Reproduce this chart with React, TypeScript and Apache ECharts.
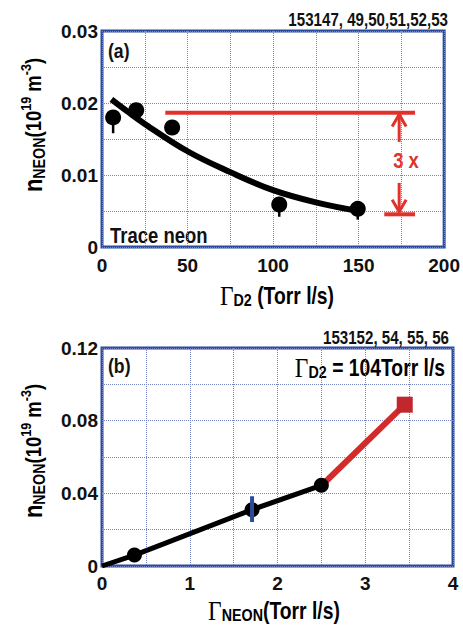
import { useEffect, useRef } from "react";
import * as echarts from "echarts";

// ---------- data ----------
const xTickValuesA = [0, 50, 100, 150, 200];
const xTickLabelsA = ["0", "50", "100", "150", "200"];
const yTickValuesA = [0, 0.01, 0.02, 0.03];
const yTickLabelsA = ["0", "0.01", "0.02", "0.03"];

const xTickValuesB = [0, 1, 2, 3, 4];
const xTickLabelsB = ["0", "1", "2", "3", "4"];
const yTickValuesB = [0, 0.04, 0.08, 0.12];
const yTickLabelsB = ["0", "0.04", "0.08", "0.12"];

// panel (a): neon density vs D2 puff rate
const pointsA = [
  [6.5, 0.018],
  [20, 0.019],
  [41, 0.0166],
  [103.6, 0.0059],
  [149.5, 0.0053],
];
// [x, low, high]
const errorBarsA = [
  [6.5, 0.0158, 0.018],
  [103.6, 0.0042, 0.0059],
  [149.5, 0.0038, 0.0053],
];
const fitCurveA = [
  [5.5, 0.0205],
  [15, 0.0188],
  [25, 0.0171],
  [50, 0.0133],
  [75, 0.0104],
  [100, 0.0079],
  [125, 0.0062],
  [150, 0.005],
];
const upperLevelA = [
  [37, 0.01865],
  [183, 0.01865],
];
const lowerLevelA = [
  [165, 0.00454],
  [183, 0.00454],
];
// [x, from, to]
const ratioArrowsA = [
  [173.7, 0.0146, 0.0184],
  [173.7, 0.0089, 0.0049],
];

// panel (b): neon density vs neon puff rate
const lineB = [
  [0, 0],
  [0.37, 0.006],
  [1.71, 0.031],
  [2.5, 0.0444],
];
const pointsB = [
  [0.37, 0.006],
  [1.71, 0.031],
  [2.5, 0.0444],
];
const errorBarsB = [[1.71, 0.0242, 0.0384]];
const redSegmentB = [
  [2.55, 0.0465],
  [3.45, 0.0888],
];
const redPointB = [[3.45, 0.0888]];

const shotsA = "153147, 49,50,51,52,53";
const shotsB = "153152, 54, 55, 56";

// ---------- styles ----------
const FONT = "'Liberation Sans', Arial, Helvetica, sans-serif";
const SERIF = "'Liberation Serif', 'DejaVu Serif', serif";
const BLUE = "#2d4b9b";
const GRIDC = "#7585c8";
const RED = "#e0322b";
const RED2 = "#d42a2a";
const TXT = "#111";
const NARROW = 0.84;

function tickFormatter(values: number[], labels: string[]) {
  return (v: number) => {
    const i = values.findIndex((t) => Math.abs(t - v) < 1e-9);
    return i >= 0 ? labels[i] : "";
  };
}

function errorBarRender(color: string, width: number) {
  return (params: any, api: any) => {
    const x = api.value(0);
    const p1 = api.coord([x, api.value(1)]);
    const p2 = api.coord([x, api.value(2)]);
    return {
      type: "line",
      shape: { x1: p1[0], y1: p1[1], x2: p2[0], y2: p2[1] },
      style: { stroke: color, lineWidth: width },
    };
  };
}

function arrowRender(params: any, api: any) {
  const x = api.value(0);
  const pf = api.coord([x, api.value(1)]);
  const pt = api.coord([x, api.value(2)]);
  const dir = Math.sign(pf[1] - pt[1]);
  return {
    type: "group",
    children: [
      {
        type: "line",
        shape: { x1: pf[0], y1: pf[1], x2: pt[0], y2: pt[1] },
        style: { stroke: RED, lineWidth: 3 },
      },
      {
        type: "polyline",
        shape: {
          points: [
            [pt[0] - 7, pt[1] + dir * 12],
            [pt[0], pt[1]],
            [pt[0] + 7, pt[1] + dir * 12],
          ],
        },
        style: { stroke: RED, lineWidth: 3, fill: "none" },
      },
    ],
  };
}

const yTitleRich = {
  n: { fontFamily: FONT, fontWeight: "bold", fontSize: 26, lineHeight: 30, color: TXT },
  sub: { fontFamily: FONT, fontWeight: "bold", fontSize: 17, lineHeight: 17, verticalAlign: "bottom", color: TXT },
  m: { fontFamily: FONT, fontWeight: "bold", fontSize: 22, lineHeight: 30, color: TXT },
  sup: { fontFamily: FONT, fontWeight: "bold", fontSize: 15, lineHeight: 15, verticalAlign: "top", color: TXT },
};
const yTitleText = "{n|n}{sub|NEON}{m|(10}{sup|19}{m| m}{sup|-3}{m|)}";

const xTitleRich = {
  g: { fontFamily: SERIF, fontSize: 28, lineHeight: 25, color: TXT },
  sub: { fontFamily: FONT, fontWeight: "bold", fontSize: 17, lineHeight: 16, verticalAlign: "bottom", color: TXT },
  m: { fontFamily: FONT, fontWeight: "bold", fontSize: 23, lineHeight: 25, color: TXT },
};

function axisCommon() {
  return {
    axisLine: { show: false },
    axisTick: { show: false },
    splitLine: { show: true, lineStyle: { color: GRIDC, type: "dotted", width: 1 } },
  };
}

function txt(x: number, y: number, text: string, size: number, align: string, color = TXT) {
  return {
    type: "text", x, y, scaleX: NARROW,
    style: { text, font: `bold ${size}px ${FONT}`, fill: color, align, verticalAlign: "middle" },
  };
}

export default function App() {
  const ref = useRef<HTMLDivElement>(null);
  useEffect(() => {
    if (!ref.current) return;
    const chart = echarts.init(ref.current, null, { renderer: "svg" });
    const labelStyle = { fontFamily: FONT, fontWeight: "bold", fontSize: 19, color: TXT };
    const option: any = {
      animation: false,
      backgroundColor: "#fff",
      grid: [
        { left: 102, top: 31, width: 350, height: 216, show: true, borderColor: BLUE, borderWidth: 3, backgroundColor: "transparent" },
        { left: 102, top: 348, width: 351, height: 218, show: true, borderColor: BLUE, borderWidth: 3, backgroundColor: "transparent" },
      ],
      xAxis: [
        {
          type: "value", gridIndex: 0, min: 0, max: 200, interval: 25, ...axisCommon(),
          axisLabel: { ...labelStyle, margin: 9, formatter: tickFormatter(xTickValuesA, xTickLabelsA) },
        },
        {
          type: "value", gridIndex: 1, min: 0, max: 4, interval: 0.5, ...axisCommon(),
          axisLabel: { ...labelStyle, margin: 8, formatter: tickFormatter(xTickValuesB, xTickLabelsB) },
        },
      ],
      yAxis: [
        {
          type: "value", gridIndex: 0, min: 0, max: 0.03, interval: 0.005, ...axisCommon(),
          axisLabel: { ...labelStyle, margin: 4, formatter: tickFormatter(yTickValuesA, yTickLabelsA) },
        },
        {
          type: "value", gridIndex: 1, min: 0, max: 0.12, interval: 0.02, ...axisCommon(),
          axisLabel: { ...labelStyle, margin: 4, formatter: tickFormatter(yTickValuesB, yTickLabelsB) },
        },
      ],
      series: [
        // ---- panel (a)
        {
          type: "line", xAxisIndex: 0, yAxisIndex: 0, data: upperLevelA, symbol: "none",
          lineStyle: { color: RED, width: 4 }, z: 3,
        },
        {
          type: "line", xAxisIndex: 0, yAxisIndex: 0, data: lowerLevelA, symbol: "none",
          lineStyle: { color: RED, width: 4 }, z: 3,
        },
        {
          type: "custom", xAxisIndex: 0, yAxisIndex: 0, data: ratioArrowsA,
          encode: { x: 0, y: [1, 2] }, renderItem: arrowRender, z: 3,
        },
        {
          type: "custom", xAxisIndex: 0, yAxisIndex: 0, data: errorBarsA,
          encode: { x: 0, y: [1, 2] }, renderItem: errorBarRender("#000", 2.5), z: 4,
        },
        {
          type: "scatter", xAxisIndex: 0, yAxisIndex: 0, data: pointsA, symbol: "circle",
          symbolSize: 16, itemStyle: { color: "#000", opacity: 1 }, z: 5,
        },
        {
          type: "line", xAxisIndex: 0, yAxisIndex: 0, data: fitCurveA, smooth: 0.4, symbol: "none",
          lineStyle: { color: "#000", width: 6 }, z: 6,
        },
        // ---- panel (b)
        {
          type: "line", xAxisIndex: 1, yAxisIndex: 1, data: redSegmentB, symbol: "none",
          lineStyle: { color: RED2, width: 6 }, z: 3,
        },
        {
          type: "scatter", xAxisIndex: 1, yAxisIndex: 1, data: redPointB, symbol: "rect",
          symbolSize: 16, itemStyle: { color: "#c1272d", opacity: 1 }, z: 4,
        },
        {
          type: "line", xAxisIndex: 1, yAxisIndex: 1, data: lineB, symbol: "none",
          lineStyle: { color: "#000", width: 5 }, z: 4,
        },
        {
          type: "scatter", xAxisIndex: 1, yAxisIndex: 1, data: pointsB, symbol: "circle",
          symbolSize: 15, itemStyle: { color: "#000", opacity: 1 }, z: 5,
        },
        {
          type: "custom", xAxisIndex: 1, yAxisIndex: 1, data: errorBarsB,
          encode: { x: 0, y: [1, 2] }, renderItem: errorBarRender(BLUE, 4), z: 6,
        },
      ],
      graphic: [
        // panel (a) texts
        txt(448, 20, shotsA, 18, "right"),
        txt(108, 50, "(a)", 21, "left"),
        txt(110, 235, "Trace neon", 22, "left"),
        txt(406, 160, "3 x", 22, "center", RED),
        {
          type: "text", x: 33, y: 125, rotation: Math.PI / 2, scaleX: NARROW,
          style: { text: yTitleText, rich: yTitleRich, align: "center", verticalAlign: "middle" },
        },
        {
          type: "text", x: 277, y: 296, scaleX: NARROW,
          style: { text: "{g|Γ}{sub|D2}{m| (Torr l/s)}", rich: xTitleRich, align: "center", verticalAlign: "middle" },
        },
        // panel (b) texts
        txt(449, 338, shotsB, 18, "right"),
        txt(108, 365, "(b)", 21, "left"),
        {
          type: "text", x: 445, y: 368, scaleX: NARROW,
          style: { text: "{g|Γ}{sub|D2}{m| = 104Torr l/s}", rich: xTitleRich, align: "right", verticalAlign: "middle" },
        },
        {
          type: "text", x: 33, y: 451, rotation: Math.PI / 2, scaleX: NARROW,
          style: { text: yTitleText, rich: yTitleRich, align: "center", verticalAlign: "middle" },
        },
        {
          type: "text", x: 274, y: 611, scaleX: NARROW,
          style: { text: "{g|Γ}{sub|NEON}{m|(Torr l/s)}", rich: xTitleRich, align: "center", verticalAlign: "middle" },
        },
      ],
    };
    chart.setOption(option);
    return () => chart.dispose();
  }, []);
  return <div ref={ref} style={{ position: "fixed", left: 0, top: 0, width: 463, height: 626 }} />;
}
